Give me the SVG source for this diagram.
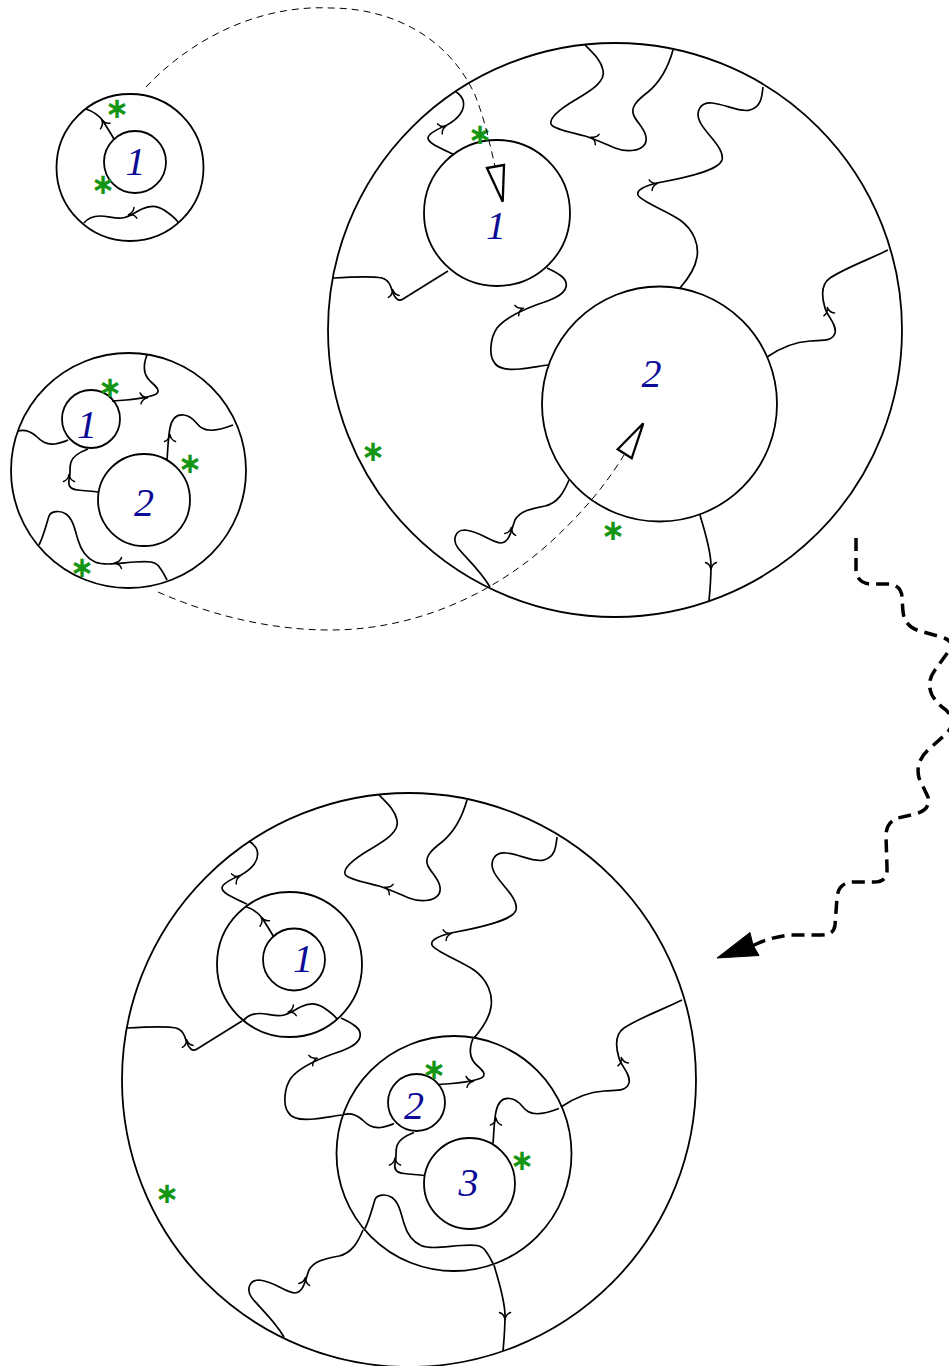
<svg xmlns="http://www.w3.org/2000/svg" width="949" height="1366" viewBox="0 0 949 1366">
<style>
.c{fill:none;stroke:#000;stroke-width:1.8}
.w{fill:none;stroke:#000;stroke-width:1.7}
.l{font-family:"Liberation Serif",serif;font-style:italic;font-size:40px;fill:#0b0b96;text-anchor:middle}
.s{font-family:"DejaVu Sans",sans-serif;font-size:29px;font-weight:bold;fill:#149614;text-anchor:middle;dominant-baseline:central}
.d{fill:none;stroke:#000;stroke-width:1;stroke-dasharray:7 5}
.t{fill:#fff;stroke:#000;stroke-width:2.3;stroke-linejoin:miter}
</style>
<defs>
<path id="ar" d="M-4.5,-5.5 C-3.5,-2.5 -0.5,-0.5 2.5,0 C-0.5,0.5 -3.5,2.5 -4.5,5.5" fill="none" stroke="#000" stroke-width="1.5" stroke-linecap="round" stroke-linejoin="round"/>
</defs>

<!-- top-left small picture -->
<g id="small1">
<circle cx="130" cy="167.5" r="73.5" class="c"/>
<circle cx="135" cy="162" r="31" class="c"/>
<text class="l" x="135.5" y="175">1</text>
<text class="s" x="117" y="108">∗</text>
<text class="s" x="103" y="184">∗</text>
</g>
<g id="s1-curves">
<path class="w" d="M114,139 C110,132 106,126 103,121 C98,114 92,111 86,109"/>
<path class="w" d="M84,223 C88,218 92,216 100,216 C108,216 115,219 122,218 C130,217 135,212 142,209 C150,205 158,206 164,210 C170,214 175,218 178,222"/>
<use href="#ar" transform="translate(103,122) rotate(-120)"/>
<use href="#ar" transform="translate(131,214) rotate(165)"/>
</g>

<!-- second small picture -->
<g id="small2">
<circle cx="128.5" cy="470.5" r="117.5" class="c"/>
<circle cx="91" cy="419" r="29" class="c"/>
<circle cx="144" cy="500" r="46" class="c"/>
<text class="l" x="87" y="438">1</text>
<text class="l" x="144" y="515.5">2</text>
<text class="s" x="110" y="387">∗</text>
<text class="s" x="190" y="463">∗</text>
<text class="s" x="82" y="567">∗</text>
</g>
<g id="s2-curves">
<path class="w" d="M147,355 C143,365 143,374 150,381 C157,387 162,392 154,395 C146,398 130,400 112,401"/>
<path class="w" d="M18,431 C25,429 30,431 36,436 C41,441 46,445 55,444 C60,443 64,442 68,440"/>
<path class="w" d="M88,449 C80,452 73,456 71,462 C69,468 71,474 69,480 C68,486 70,489 78,490 C85,491 92,491 98,492"/>
<path class="w" d="M167,460 C168,448 168,438 170,428 C172,418 177,414 184,415 C194,416 196,425 202,428 C208,432 220,430 233,425"/>
<path class="w" d="M39,545 C44,535 47,522 49,516 C51,511 60,510 66,514 C73,519 75,530 78,540 C81,550 86,558 95,562 C105,566 120,563 135,562 C148,561 156,561 160,568 C163,572 165,576 167,580"/>
<use href="#ar" transform="translate(145,398) rotate(-5)"/>
<use href="#ar" transform="translate(69,477) rotate(-90)"/>
<use href="#ar" transform="translate(170,437) rotate(-90)"/>
</g>
<use id="s2-arrowG" href="#ar" transform="translate(117,563) rotate(180)"/>

<!-- big top picture -->
<g id="bigtop">
<circle cx="615" cy="330" r="287" class="c"/>
<circle cx="497" cy="213" r="73" class="c"/>
<circle cx="659.5" cy="404" r="117.5" class="c"/>
<text class="l" x="496" y="239">1</text>
<text class="l" x="651.5" y="386.5">2</text>
<text class="s" x="480" y="134">∗</text>
<text class="s" x="373" y="451">∗</text>
<text class="s" x="613" y="530">∗</text>
</g>
<g id="big-curves">
<path class="w" d="M453,154 C440,148 428,143 428,138 C428,133 440,128 447,125 C458,119 466,110 463,100 C461,95 458,93 455,91"/>
<path class="w" d="M333,278 C350,277 372,276 382,278 C390,280 391,288 393,293 C395,298 398,302 403,299 L448,271"/>
<path class="w" d="M547,268 C560,274 568,279 566,287 C564,296 548,301 536,305 C520,311 505,318 497,328 C490,338 489,355 494,362 C498,370 510,370 520,369 C530,368 540,366 548,365"/>
<path class="w" d="M673,50 C668,68 660,82 648,92 C636,101 630,108 634,116 C638,124 650,134 645,144 C640,152 625,152 615,148 C605,144 595,139 585,136 C570,132 553,129 551,124 C549,117 565,106 575,100 C590,91 606,82 603,70 C601,60 593,53 585,45"/>
<path class="w" d="M763,87 C762,97 761,107 750,110 C740,113 725,104 712,103 C700,102 695,112 700,122 C705,133 725,148 722,160 C719,170 690,177 657,183 C645,186 636,190 638,195 C640,201 665,210 680,220 C694,230 699,245 697,257 C695,270 687,280 680,288"/>
<path class="w" d="M767,357 C780,348 795,342 810,341 C822,340 832,342 835,333 C837,324 827,316 825,308 C822,298 820,285 830,278 C845,268 870,259 888,250"/>
<path class="w" d="M569,480 C564,492 558,503 545,506 C530,509 520,511 515,520 C511,530 510,542 501,543 C492,543 480,531 465,530 C455,530 452,540 458,548 C465,557 480,570 490,587"/>
<path class="w" d="M700,515 C705,533 711,550 711,566 C711,580 710,590 709,601"/>
<use href="#ar" transform="translate(444,127) rotate(-25)"/>
<use href="#ar" transform="translate(393,292) rotate(-100)"/>
<use href="#ar" transform="translate(521,309) rotate(-20)"/>
<use href="#ar" transform="translate(593,138) rotate(200)"/>
<use href="#ar" transform="translate(655,184) rotate(-15)"/>
<use href="#ar" transform="translate(828,310) rotate(-105)"/>
<use href="#ar" transform="translate(511,530) rotate(-80)"/>
<use href="#ar" transform="translate(711,567) rotate(90)"/>
</g>

<!-- bottom picture -->
<g id="bigbottom">
<circle cx="409" cy="1080" r="287" class="c"/>
<circle cx="289.5" cy="964.5" r="72.5" class="c"/>
<circle cx="294" cy="959.5" r="31" class="c"/>
<circle cx="454" cy="1153.5" r="117.5" class="c"/>
<circle cx="416.5" cy="1102.5" r="28.5" class="c"/>
<circle cx="469.5" cy="1183.5" r="45.5" class="c"/>
<text class="l" x="303" y="971.5">1</text>
<text class="l" x="414" y="1119">2</text>
<text class="l" x="468.5" y="1196">3</text>
<text class="s" x="167" y="1193">∗</text>
<text class="s" x="434" y="1069">∗</text>
<text class="s" x="522" y="1160">∗</text>
</g>
<use id="bottom-outer-curves" href="#big-curves" transform="translate(-206,750)"/>
<use id="bottom-ring1-curves" href="#s1-curves" transform="translate(159.5,797.5)"/>
<use id="bottom-ring2-curves" href="#s2-curves" transform="translate(326,683.5)"/>

<!-- connectors -->
<g id="connectors">
<path class="d" d="M146,87 C200,30 270,5 330,8 C395,8 450,40 475,95 C485,120 490,145 495,166"/>
<polygon class="t" points="487,168 504,165 502.7,201.7"/>
<path class="d" d="M158,592 C210,615 270,630 330,630 C420,630 500,590 555,538 C590,505 610,478 624,455"/>
<polygon class="t" points="643.3,423.3 617.7,449.3 631.7,458.3"/>
<path d="M856,538 L856,570 Q857,583 870,584 L890,584 Q902,586 902,598 L903,612 Q905,627 920,631 L938,636 Q958,641 948,652 L935,670 Q926,682 932,695 Q937,704 946,710 Q958,722 946,734 L928,750 Q915,762 919,778 L928,797 Q931,810 915,814 L898,818 Q886,822 886,836 L887,868 Q888,882 874,882 L852,882 Q838,883 837,898 L835,925 Q834,935 822,935 L790,935 Q770,937 752,946" fill="none" stroke="#000" stroke-width="3.5" stroke-dasharray="13 7"/>
<path d="M717,958 L750,932.5 L753,945 L759,955.5 Z" fill="#000" stroke="#000" stroke-width="1" stroke-linejoin="miter"/>
</g>
</svg>
